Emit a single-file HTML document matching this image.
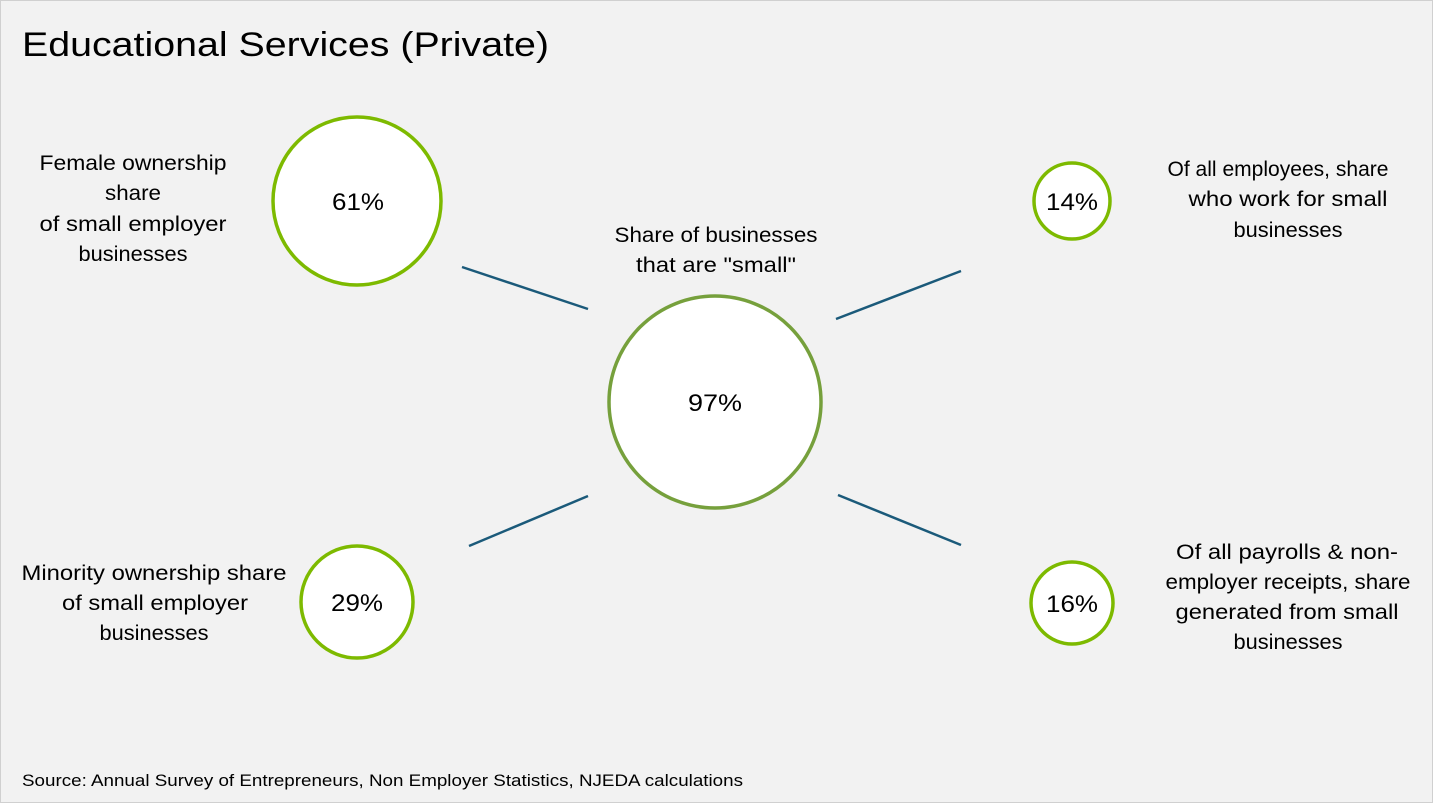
<!DOCTYPE html>
<html><head><meta charset="utf-8"><style>
html,body{margin:0;padding:0;background:#f2f2f2;}
svg{display:block;}
text{font-family:"Liberation Sans",sans-serif;fill:#000;}
</style></head><body>
<svg width="1433" height="803" viewBox="0 0 1433 803" xmlns="http://www.w3.org/2000/svg">
<rect x="0.5" y="0.5" width="1432" height="802" fill="#f2f2f2" stroke="#d0d0d0"/>
<text x="22" y="56" font-size="34" textLength="527" lengthAdjust="spacingAndGlyphs">Educational Services (Private)</text>
<g stroke="#1b5a7a" stroke-width="2.5">
<line x1="462" y1="267" x2="588" y2="309"/>
<line x1="836" y1="319" x2="961" y2="271"/>
<line x1="469" y1="546" x2="588" y2="496"/>
<line x1="838" y1="495" x2="961" y2="545"/>
</g>
<g fill="#fff" stroke="#7dba00" stroke-width="3.5">
<circle cx="357" cy="201" r="84"/>
<circle cx="1072" cy="201" r="38"/>
<circle cx="357" cy="602" r="56"/>
<circle cx="1072" cy="603" r="41"/>
</g>
<circle cx="715" cy="402" r="106" fill="#fff" stroke="#76a03c" stroke-width="3.5"/>
<g font-size="24" text-anchor="middle">
<text x="358" y="210" textLength="52" lengthAdjust="spacingAndGlyphs">61%</text>
<text x="715" y="411" textLength="54" lengthAdjust="spacingAndGlyphs">97%</text>
<text x="1072" y="210" textLength="52" lengthAdjust="spacingAndGlyphs">14%</text>
<text x="357" y="611" textLength="52" lengthAdjust="spacingAndGlyphs">29%</text>
<text x="1072" y="612" textLength="52" lengthAdjust="spacingAndGlyphs">16%</text>
</g>
<g font-size="21" text-anchor="middle">
<text x="133" y="170" textLength="187" lengthAdjust="spacingAndGlyphs">Female ownership</text>
<text x="133" y="200" textLength="56" lengthAdjust="spacingAndGlyphs">share</text>
<text x="133" y="231" textLength="187" lengthAdjust="spacingAndGlyphs">of small employer</text>
<text x="133" y="261" textLength="109" lengthAdjust="spacingAndGlyphs">businesses</text>
<text x="716" y="242" textLength="203" lengthAdjust="spacingAndGlyphs">Share of businesses</text>
<text x="716" y="272" textLength="160" lengthAdjust="spacingAndGlyphs">that are "small"</text>
<text x="1278" y="176" textLength="221" lengthAdjust="spacingAndGlyphs">Of all employees, share</text>
<text x="1288" y="206" textLength="199" lengthAdjust="spacingAndGlyphs">who work for small</text>
<text x="1288" y="237" textLength="109" lengthAdjust="spacingAndGlyphs">businesses</text>
<text x="154" y="580" textLength="265" lengthAdjust="spacingAndGlyphs">Minority ownership share</text>
<text x="155" y="610" textLength="186" lengthAdjust="spacingAndGlyphs">of small employer</text>
<text x="154" y="640" textLength="109" lengthAdjust="spacingAndGlyphs">businesses</text>
<text x="1287" y="559" textLength="222" lengthAdjust="spacingAndGlyphs">Of all payrolls &amp; non-</text>
<text x="1288" y="589" textLength="245" lengthAdjust="spacingAndGlyphs">employer receipts, share</text>
<text x="1287" y="619" textLength="223" lengthAdjust="spacingAndGlyphs">generated from small</text>
<text x="1288" y="649" textLength="109" lengthAdjust="spacingAndGlyphs">businesses</text>
</g>
<text x="22" y="786" font-size="17" textLength="721" lengthAdjust="spacingAndGlyphs">Source: Annual Survey of Entrepreneurs, Non Employer Statistics, NJEDA calculations</text>
</svg>
</body></html>
